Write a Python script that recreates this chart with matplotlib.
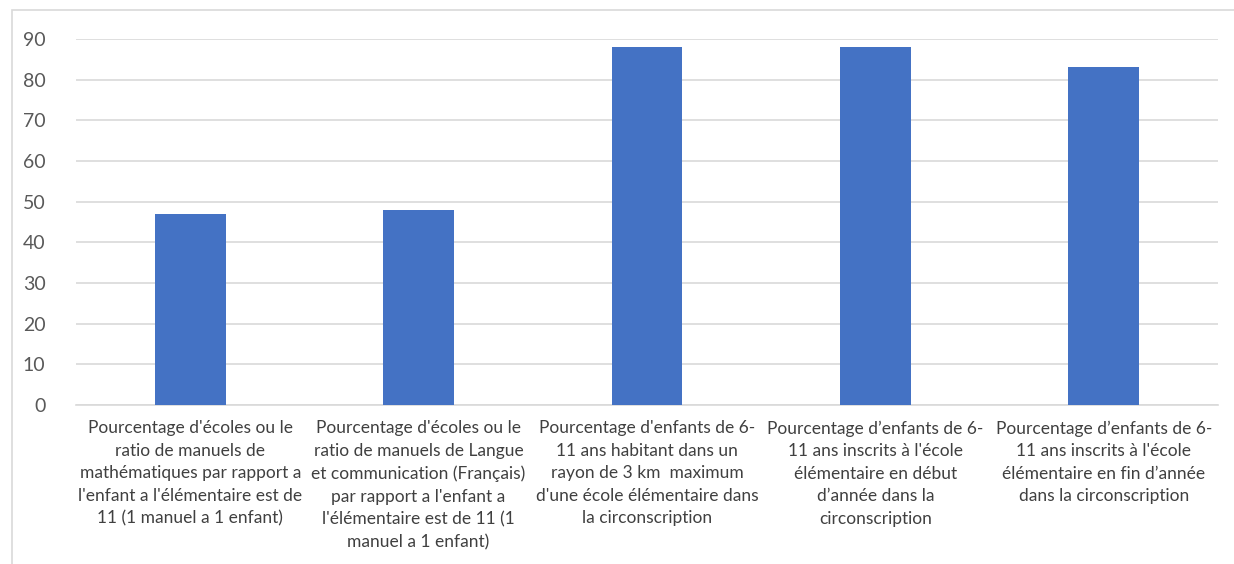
import matplotlib.pyplot as plt
from matplotlib.patches import Rectangle

categories = [
    "Pourcentage d'écoles ou le\nratio de manuels de\nmathématiques par rapport a\nl'enfant a l'élémentaire est de\n11 (1 manuel a 1 enfant)",
    "Pourcentage d'écoles ou le\nratio de manuels de Langue\net communication (Français)\npar rapport a l'enfant a\nl'élémentaire est de 11 (1\nmanuel a 1 enfant)",
    "Pourcentage d'enfants de 6-\n11 ans habitant dans un\nrayon de 3 km  maximum\nd'une école élémentaire dans\nla circonscription",
    "Pourcentage d’enfants de 6-\n11 ans inscrits à l'école\nélémentaire en début\nd’année dans la\ncirconscription",
    "Pourcentage d’enfants de 6-\n11 ans inscrits à l'école\nélémentaire en fin d’année\ndans la circonscription",
]
values = [47, 48, 88, 88, 83]
y_ticks = [0, 10, 20, 30, 40, 50, 60, 70, 80, 90]

plt.rcParams['font.family'] = ['Lato', 'DejaVu Sans']

fig = plt.figure(figsize=(12.34, 5.64), dpi=100)
ax = fig.add_axes([76 / 1234, 1 - 405 / 564, (1218 - 76) / 1234, (405 - 39) / 564])

x = list(range(len(values)))
ax.bar(x, values, width=0.31, color="#4472c4", zorder=3)

ax.set_xlim(-0.5, len(values) - 0.5)
ax.set_ylim(0, 90)
ax.set_yticks(y_ticks)
ax.set_yticklabels([str(v) for v in y_ticks], fontsize=14, color="#595959")
ax.set_xticks(x)
ax.set_xticklabels(categories, fontsize=12.5, color="#404040", linespacing=1.5)
ax.tick_params(axis="y", length=0, pad=22)
ax.tick_params(axis="x", length=0, pad=11)
ax.grid(axis="y", color="#d9d9d9", linewidth=1.2, zorder=0)
for side in ["top", "right", "left"]:
    ax.spines[side].set_visible(False)
ax.spines["bottom"].set_color("#d9d9d9")
ax.spines["bottom"].set_linewidth(1.2)

fig.patches.append(Rectangle((12 / 1234, -0.05), 1.1, 1 - 10 / 564 + 0.05,
                             transform=fig.transFigure, fill=False,
                             edgecolor="#d9d9d9", linewidth=1.2))

fig.savefig("out.png", dpi=100)
